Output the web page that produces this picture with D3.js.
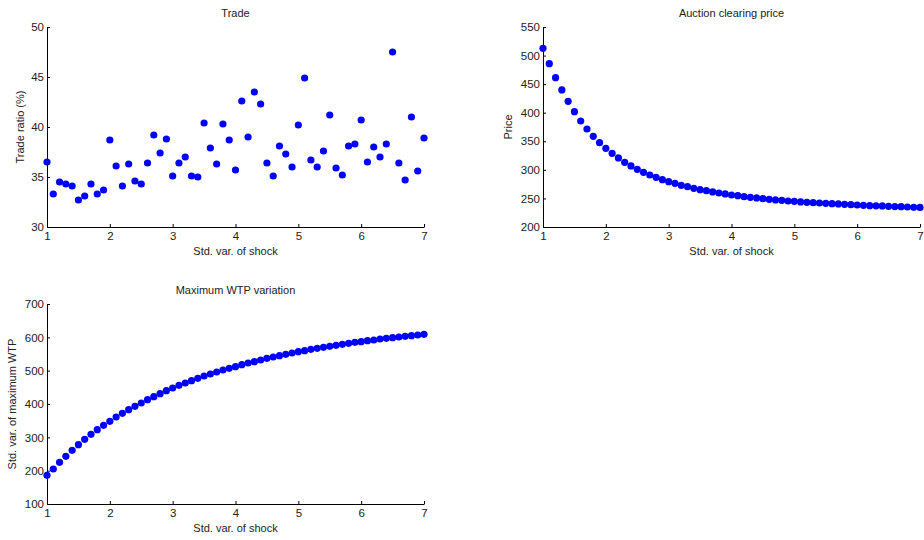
<!DOCTYPE html>
<html>
<head>
<meta charset="utf-8">
<script src="https://cdn.jsdelivr.net/npm/d3@7"></script>
<style>
  body { margin: 0; background: #fff; }
  svg text { font-family: "Liberation Sans", Arial, sans-serif; fill: #222; }
</style>
</head>
<body>
<svg id="chart"></svg>
<script>
const svg_width = 924, svg_height = 540;

// x values: std. var. of shock, 1.0 .. 7.0 in steps of 0.1
const shock = [1.0, 1.1, 1.2, 1.3, 1.4, 1.5, 1.6, 1.7, 1.8, 1.9,
    2.0, 2.1, 2.2, 2.3, 2.4, 2.5, 2.6, 2.7, 2.8, 2.9,
    3.0, 3.1, 3.2, 3.3, 3.4, 3.5, 3.6, 3.7, 3.8, 3.9,
    4.0, 4.1, 4.2, 4.3, 4.4, 4.5, 4.6, 4.7, 4.8, 4.9,
    5.0, 5.1, 5.2, 5.3, 5.4, 5.5, 5.6, 5.7, 5.8, 5.9,
    6.0, 6.1, 6.2, 6.3, 6.4, 6.5, 6.6, 6.7, 6.8, 6.9, 7.0];

const tradeRatio = [36.5, 33.3, 34.5, 34.3, 34.1, 32.7, 33.1, 34.3, 33.3, 33.7,
    38.7, 36.1, 34.1, 36.3, 34.6, 34.3, 36.4, 39.2, 37.4, 38.8,
    35.1, 36.4, 37.0, 35.1, 35.0, 40.4, 37.9, 36.3, 40.3, 38.7,
    35.7, 42.6, 39.0, 43.5, 42.3, 36.4, 35.1, 38.1, 37.3, 36.0,
    40.2, 44.9, 36.7, 36.0, 37.6, 41.2, 35.9, 35.2, 38.1, 38.3,
    40.7, 36.5, 38.0, 37.0, 38.3, 47.5, 36.4, 34.7, 41.0, 35.6, 38.9];

const price = [512.7, 485.8, 461.3, 439.8, 419.9, 401.8, 385.5, 371.5, 358.7, 347.6,
    337.7, 328.9, 320.8, 313.2, 306.8, 300.9, 295.7, 291.0, 286.9, 282.8,
    279.3, 276.4, 272.9, 270.6, 267.7, 265.3, 263.6, 261.3, 259.5, 257.8,
    256.0, 254.8, 253.1, 251.9, 250.8, 249.6, 248.4, 247.3, 246.7, 245.5,
    244.9, 243.8, 243.2, 242.6, 242.0, 241.4, 240.8, 240.3, 239.7, 239.1,
    238.5, 237.9, 237.3, 237.1, 236.8, 236.2, 235.8, 235.5, 235.0, 234.5, 234.2];

const wtpVar = [186, 205, 225, 243, 261, 278, 294, 309, 323, 336,
    348, 361, 372, 383, 393, 403, 413, 422, 431, 440,
    448, 456, 463, 470, 477, 484, 490, 496, 502, 507,
    512, 518, 523, 527, 532, 537, 541, 545, 549, 553,
    557, 560, 564, 567, 570, 573, 576, 579, 582, 585,
    587, 590, 592, 595, 597, 599, 601, 603, 605, 607, 609];

const xTicks = [1, 2, 3, 4, 5, 6, 7];
const tradeTicks = [30, 35, 40, 45, 50];
const priceTicks = [200, 250, 300, 350, 400, 450, 500, 550];
const wtpTicks = [100, 200, 300, 400, 500, 600, 700];

const svg = d3.select("#chart")
    .attr("width", svg_width)
    .attr("height", svg_height);

function panel(opts) {
    const { left, top, width, height } = opts;
    const g = svg.append("g").attr("transform", `translate(${left},${top})`);

    const x = d3.scaleLinear().domain([1, 7]).range([0, width]);
    const y = d3.scaleLinear().domain(opts.yDomain).range([height, 0]);

    // inward ticks, MATLAB style
    const xAxis = g.append("g")
        .attr("transform", `translate(0,${height})`)
        .call(d3.axisBottom(x).tickValues(xTicks).tickSizeInner(-3).tickSizeOuter(0).tickPadding(5).tickFormat(d3.format("d")));
    const yAxis = g.append("g")
        .call(d3.axisLeft(y).tickValues(opts.yTicks).tickSizeInner(-3).tickSizeOuter(0).tickPadding(3).tickFormat(d3.format("d")));

    [xAxis, yAxis].forEach(a => {
        a.selectAll("path").attr("stroke", "#000");
        a.selectAll("line").attr("stroke", "#000");
        a.selectAll("text").attr("font-size", 11.5).attr("fill", "#222")
            .attr("font-family", "Liberation Sans, Arial, sans-serif");
    });

    g.append("text")
        .attr("x", width / 2)
        .attr("y", -10)
        .attr("text-anchor", "middle")
        .attr("font-size", 11)
        .text(opts.title);

    g.append("text")
        .attr("x", width / 2)
        .attr("y", height + 28)
        .attr("text-anchor", "middle")
        .attr("font-size", 11)
        .text("Std. var. of shock");

    g.append("text")
        .attr("transform", `translate(${opts.yLabelX},${height / 2}) rotate(-90)`)
        .attr("text-anchor", "middle")
        .attr("font-size", 11)
        .text(opts.yLabel);

    g.selectAll("circle")
        .data(opts.values)
        .join("circle")
        .attr("cx", (d, i) => x(shock[i]))
        .attr("cy", d => y(d))
        .attr("r", 3.6)
        .attr("fill", "#0000ff");
}

panel({ left: 47, top: 27, width: 377, height: 200, yDomain: [30, 50], yTicks: tradeTicks,
    values: tradeRatio, title: "Trade", yLabel: "Trade ratio (%)", yLabelX: -23 });

panel({ left: 543, top: 27, width: 377, height: 200, yDomain: [200, 550], yTicks: priceTicks,
    values: price, title: "Auction clearing price", yLabel: "Price", yLabelX: -31 });

panel({ left: 47, top: 304, width: 377, height: 200, yDomain: [100, 700], yTicks: wtpTicks,
    values: wtpVar, title: "Maximum WTP variation", yLabel: "Std. var. of maximum WTP", yLabelX: -31 });
</script>
</body>
</html>
